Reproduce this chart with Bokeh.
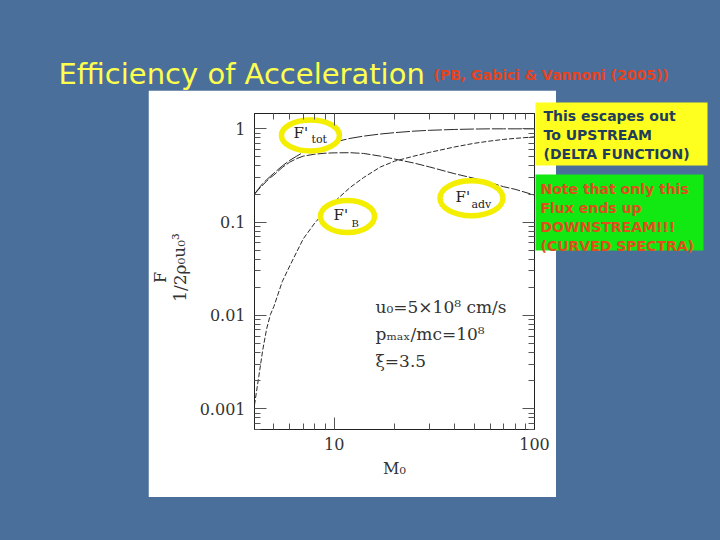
from bokeh.plotting import figure
from bokeh.layouts import column, row
from bokeh.models import (FixedTicker, LogAxis, Label, Range1d, CustomJSTickFormatter,
                          Spacer)
from bokeh.embed import file_html
from bokeh.resources import INLINE

# ---------------- data ----------------
mach = [4, 4.2, 4.4, 4.6, 4.8, 5, 5.5, 6, 6.5, 7, 8, 9, 10, 12, 14, 17, 20,
        25, 30, 40, 50, 60, 70, 80, 100]
f_tot = [0.20, 0.23, 0.26, 0.285, 0.31, 0.335, 0.40, 0.46, 0.51, 0.56, 0.63,
         0.68, 0.72, 0.79, 0.835, 0.88, 0.91, 0.945, 0.965, 0.985, 0.995,
         1.0, 1.0, 1.0, 1.0]
f_adv = [0.20, 0.225, 0.25, 0.275, 0.30, 0.32, 0.385, 0.44, 0.48, 0.51, 0.535,
         0.548, 0.553, 0.555, 0.545, 0.51, 0.475, 0.43, 0.39, 0.33, 0.295,
         0.265, 0.24, 0.225, 0.195]
f_esc = [0.0011, 0.0022, 0.0043, 0.0072, 0.0102, 0.0125, 0.023, 0.034, 0.048,
         0.066, 0.098, 0.130, 0.165, 0.235, 0.30, 0.39, 0.45, 0.51, 0.56,
         0.64, 0.70, 0.74, 0.77, 0.79, 0.82]

x_major = [10, 100]
x_major_labels = ["10", "100"]
x_minor = [4, 5, 6, 7, 8, 9, 20, 30, 40, 50, 60, 70, 80, 90]
y_major = [0.001, 0.01, 0.1, 1]
y_major_labels = ["0.001", "0.01", "0.1", "1"]
y_minor = [0.0006, 0.0007, 0.0008, 0.0009,
           0.002, 0.003, 0.004, 0.005, 0.006, 0.007, 0.008, 0.009,
           0.02, 0.03, 0.04, 0.05, 0.06, 0.07, 0.08, 0.09,
           0.2, 0.3, 0.4, 0.5, 0.6, 0.7, 0.8, 0.9]

title_text = "Efficiency of Acceleration"
ref_text = "(PB, Gabici & Vannoni (2005))"
yellow_lines = ["This escapes out", "To UPSTREAM", "(DELTA FUNCTION)"]
green_lines = ["Note that only this", "Flux ends up", "DOWNSTREAM!!!",
               "(CURVED SPECTRA)"]
param_lines = ["u\u2080=5\u00d710\u2078 cm/s", "p\u2098\u2090\u2093/mc=10\u2078",
               "\u03be=3.5"]
x_label = "M\u2080"
y_label_num = "F"
y_label_den = "1/2\u03c1\u2080u\u2080\u00b3"

BG = "#4b6f9b"
TXT = "#333333"

# ---------------- main plot (white panel: page x 148..556, y 90..497) --------
p = figure(width=408, height=407, x_axis_type="log", y_axis_type="log",
           x_range=Range1d(4, 100), y_range=Range1d(0.0006, 1.46),
           output_backend="svg", toolbar_location=None, frame_align=False,
           min_border_left=106, min_border_right=22,
           min_border_top=23, min_border_bottom=68)
p.title.visible = False
p.border_fill_color = "white"
p.background_fill_color = "white"
p.outline_line_color = "#222222"
p.grid.visible = False

blank = CustomJSTickFormatter(code="return ''")


def style_axis(ax, labels=True):
    ax.major_tick_in = 12
    ax.major_tick_out = 0
    ax.minor_tick_in = 6
    ax.minor_tick_out = 0
    ax.major_tick_line_color = "#555555"
    ax.minor_tick_line_color = "#555555"
    ax.axis_line_color = "#222222"
    ax.major_label_text_font = "DejaVu Serif"
    ax.major_label_text_font_size = "16px"
    ax.major_label_text_color = TXT
    if not labels:
        ax.formatter = blank
        ax.major_label_standoff = 0


p.xaxis.ticker = FixedTicker(ticks=x_major, minor_ticks=x_minor)
p.yaxis.ticker = FixedTicker(ticks=y_major, minor_ticks=y_minor)
p.xaxis.major_label_overrides = dict(zip(x_major, x_major_labels))
p.yaxis.major_label_overrides = dict(zip(y_major, y_major_labels))
style_axis(p.xaxis[0])
style_axis(p.yaxis[0])
p.xaxis.major_label_standoff = 8
p.yaxis.major_label_standoff = 9
p.xaxis.axis_label = x_label
p.xaxis.axis_label_text_font = "DejaVu Serif"
p.xaxis.axis_label_text_font_size = "16px"
p.xaxis.axis_label_text_font_style = "normal"
p.xaxis.axis_label_text_color = TXT
p.xaxis.axis_label_standoff = 6

top_ax = LogAxis(ticker=FixedTicker(ticks=x_major, minor_ticks=x_minor))
right_ax = LogAxis(ticker=FixedTicker(ticks=y_major, minor_ticks=y_minor))
style_axis(top_ax, labels=False)
style_axis(right_ax, labels=False)
p.add_layout(top_ax, "above")
p.add_layout(right_ax, "right")

# reference page px -> main-frame screen units
FL, FB = 254.0, 429.0


def lab(text, X, Y, size, color=TXT, font="DejaVu Serif"):
    p.add_layout(Label(x=X - FL, y=FB - Y, x_units="screen", y_units="screen",
                       text=text, text_font=font, text_font_size=f"{size}px",
                       text_color=color, text_align="left",
                       text_baseline="middle"))


LC = "#2a2a2a"
p.line(mach, f_tot, line_color=LC, line_width=1, line_dash="14 2")
p.line(mach, f_adv, line_color=LC, line_width=1, line_dash="9 2")
p.line(mach, f_esc, line_color=LC, line_width=1, line_dash="5 2")

# yellow highlight ellipses (annotation positions in data units)
YEL = "#f4ef00"
p.ellipse(x=[7.61, 11.65, 48.45], y=[0.85, 0.115, 0.18],
          width=[58, 54, 63], height=[31, 32, 35],
          width_units="screen", height_units="screen",
          fill_color="white", line_color=YEL, line_width=5.5)

lab("F'", 293, 132, 15, "#222222")
lab("tot", 311, 139, 11, "#222222")
lab("F'", 333, 214, 15, "#222222")
lab("B", 351, 223, 10, "#222222")
lab("F'", 455, 196, 15, "#222222")
lab("adv", 471, 204, 11, "#222222")

for i, t in enumerate(param_lines):
    lab(t, 375, 306 + 27 * i, 17)

# ---------------- transparent overlay over the whole slide (page px, y down) --
ov = figure(width=720, height=540, x_range=Range1d(0, 720), y_range=Range1d(540, 0),
            output_backend="svg", toolbar_location=None,
            x_axis_location=None, y_axis_location=None, frame_align=False,
            min_border=0, min_border_left=0, min_border_right=0,
            min_border_top=0, min_border_bottom=0, margin=(-540, 0, 0, 0))
ov.title.visible = False
ov.grid.visible = False
ov.outline_line_color = None
ov.background_fill_alpha = 0.0
ov.border_fill_alpha = 0.0


def put(text, x, y, size, color, font="DejaVu Sans", style="normal",
        align="left", baseline="middle", angle=0.0):
    ov.add_layout(Label(x=x, y=y, text=text, text_font=font,
                        text_font_size=f"{size}px", text_color=color,
                        text_font_style=style, text_align=align,
                        text_baseline=baseline, angle=angle))


put(title_text, 58, 73, 29, "#ffff4d", baseline="alphabetic")
put(ref_text, 433, 74, 14, "#e4431f", style="bold", baseline="alphabetic")

# y axis label as a rotated fraction
put(y_label_num, 160, 277, 16, TXT, font="DejaVu Serif", align="center",
    angle=1.5708)
put(y_label_den, 179, 267, 17, TXT, font="DejaVu Serif", align="center",
    angle=1.5708)

# note boxes
ov.quad(left=[535], right=[707], top=[102], bottom=[165], fill_color="#ffff1f",
        line_color=None)
ov.quad(left=[535], right=[703], top=[174], bottom=[250], fill_color="#12e812",
        line_color=None)
for i, t in enumerate(yellow_lines):
    put(t, 543, 115 + 19 * i, 14, "#223d5c", style="bold")
for i, t in enumerate(green_lines):
    put(t, 540, 188 + 19 * i, 14, "#df4f1c", style="bold")

# ---------------- layout ----------------
mid = row(Spacer(width=148, height=407), p, Spacer(width=164, height=407),
          spacing=0)
layout = column(Spacer(width=720, height=90), mid, Spacer(width=720, height=43), ov,
                spacing=0, styles={"background-color": BG})
open("out.html", "w").write(file_html(layout, INLINE))
